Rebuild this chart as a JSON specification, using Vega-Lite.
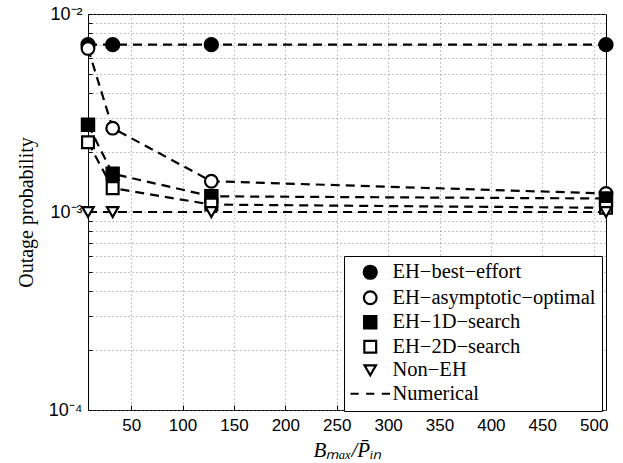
{
  "$schema": "https://vega.github.io/schema/vega-lite/v6.json",
  "autosize": "none",
  "width": 518,
  "height": 396,
  "padding": {"left": 88, "top": 14, "right": 17, "bottom": 53},
  "background": "white",
  "config": {
    "view": {"stroke": "black", "strokeWidth": 1},
    "axis": {
      "domain": false,
      "grid": true,
      "gridColor": "#888",
      "gridDash": [1, 3],
      "gridWidth": 1,
      "tickColor": "black",
      "labelFont": "Liberation Sans",
      "labelColor": "black",
      "titleFont": "Liberation Serif",
      "titleColor": "black",
      "titleFontWeight": "normal"
    }
  },
  "data": {
    "values": [
      {"x": 8, "y": 0.0070, "series": "EH−best−effort"},
      {"x": 32, "y": 0.0070, "series": "EH−best−effort"},
      {"x": 128, "y": 0.0070, "series": "EH−best−effort"},
      {"x": 512, "y": 0.0070, "series": "EH−best−effort"},
      {"x": 8, "y": 0.0067, "series": "EH−asymptotic−optimal"},
      {"x": 32, "y": 0.00265, "series": "EH−asymptotic−optimal"},
      {"x": 128, "y": 0.00143, "series": "EH−asymptotic−optimal"},
      {"x": 512, "y": 0.00124, "series": "EH−asymptotic−optimal"},
      {"x": 8, "y": 0.00276, "series": "EH−1D−search"},
      {"x": 32, "y": 0.00156, "series": "EH−1D−search"},
      {"x": 128, "y": 0.00120, "series": "EH−1D−search"},
      {"x": 512, "y": 0.00117, "series": "EH−1D−search"},
      {"x": 8, "y": 0.00225, "series": "EH−2D−search"},
      {"x": 32, "y": 0.00132, "series": "EH−2D−search"},
      {"x": 128, "y": 0.00109, "series": "EH−2D−search"},
      {"x": 512, "y": 0.00105, "series": "EH−2D−search"},
      {"x": 8, "y": 0.0010, "series": "Non−EH"},
      {"x": 32, "y": 0.0010, "series": "Non−EH"},
      {"x": 128, "y": 0.0010, "series": "Non−EH"},
      {"x": 512, "y": 0.0010, "series": "Non−EH"}
    ]
  },
  "layer": [
    {
      "mark": {"type": "line", "color": "black", "strokeWidth": 2.2, "strokeDash": [9, 6], "clip": false},
      "encoding": {
        "x": {"field": "x", "type": "quantitative"},
        "y": {"field": "y", "type": "quantitative"},
        "detail": {"field": "series"}
      }
    },
    {
      "mark": {"type": "point", "stroke": "black", "strokeWidth": 2.2, "opacity": 1, "clip": false},
      "encoding": {
        "x": {
          "field": "x",
          "type": "quantitative",
          "scale": {"domain": [8, 512], "nice": false, "zero": false},
          "axis": {
            "values": [50, 100, 150, 200, 250, 300, 350, 400, 450, 500],
            "labelFontSize": 17,
            "tickSize": -5,
            "labelPadding": 12,
            "title": "Bₘₐₓ/P̄ᵢₙ",
            "titleFontSize": 21,
            "titleFontStyle": "italic",
            "titlePadding": 6
          }
        },
        "y": {
          "field": "y",
          "type": "quantitative",
          "scale": {"type": "log", "domain": [0.0001, 0.01], "nice": false},
          "axis": {
            "values": [0.0001, 0.0002, 0.0003, 0.0004, 0.0005, 0.0006, 0.0007, 0.0008, 0.0009, 0.001, 0.002, 0.003, 0.004, 0.005, 0.006, 0.007, 0.008, 0.009, 0.01],
            "labelExpr": "datum.value == 0.0001 ? '10⁻⁴' : (datum.value == 0.001 ? '10⁻³' : (datum.value == 0.01 ? '10⁻²' : ''))",
            "labelFontSize": 18,
            "tickSize": -4,
            "labelPadding": 10,
            "title": "Outage probability",
            "titleFontSize": 20,
            "titlePadding": 12
          }
        },
        "shape": {
          "field": "series",
          "type": "nominal",
          "scale": {
            "domain": ["EH−best−effort", "EH−asymptotic−optimal", "EH−1D−search", "EH−2D−search", "Non−EH", "Numerical"],
            "range": ["circle", "circle", "square", "square", "triangle-down", "M-3.6,0H-2.1M-0.75,0H0.75M2.1,0H3.6"]
          },
          "legend": {
            "title": null,
            "orient": "none",
            "legendX": 256,
            "legendY": 242,
            "direction": "vertical",
            "strokeColor": "black",
            "fillColor": "white",
            "padding": 6,
            "labelFont": "Liberation Serif",
            "labelFontSize": 20.5,
            "labelColor": "black",
            "labelLimit": 300,
            "symbolSize": 90,
            "symbolStrokeWidth": 2.2,
            "symbolStrokeColor": "black",
            "symbolOffset": 10,
            "labelOffset": 12,
            "rowPadding": 2.5,
            "encode": {
              "symbols": {"update": {"stroke": {"value": "black"}, "strokeWidth": {"value": 2.2}}}
            }
          }
        },
        "fill": {
          "field": "series",
          "type": "nominal",
          "scale": {
            "domain": ["EH−best−effort", "EH−asymptotic−optimal", "EH−1D−search", "EH−2D−search", "Non−EH", "Numerical"],
            "range": ["black", "white", "black", "white", "white", "transparent"]
          }
        },
        "size": {
          "field": "series",
          "type": "nominal",
          "scale": {
            "domain": ["EH−best−effort", "EH−asymptotic−optimal", "EH−1D−search", "EH−2D−search", "Non−EH", "Numerical"],
            "range": [170, 120, 110, 85, 150, 100]
          }
        }
      }
    }
  ]
}
